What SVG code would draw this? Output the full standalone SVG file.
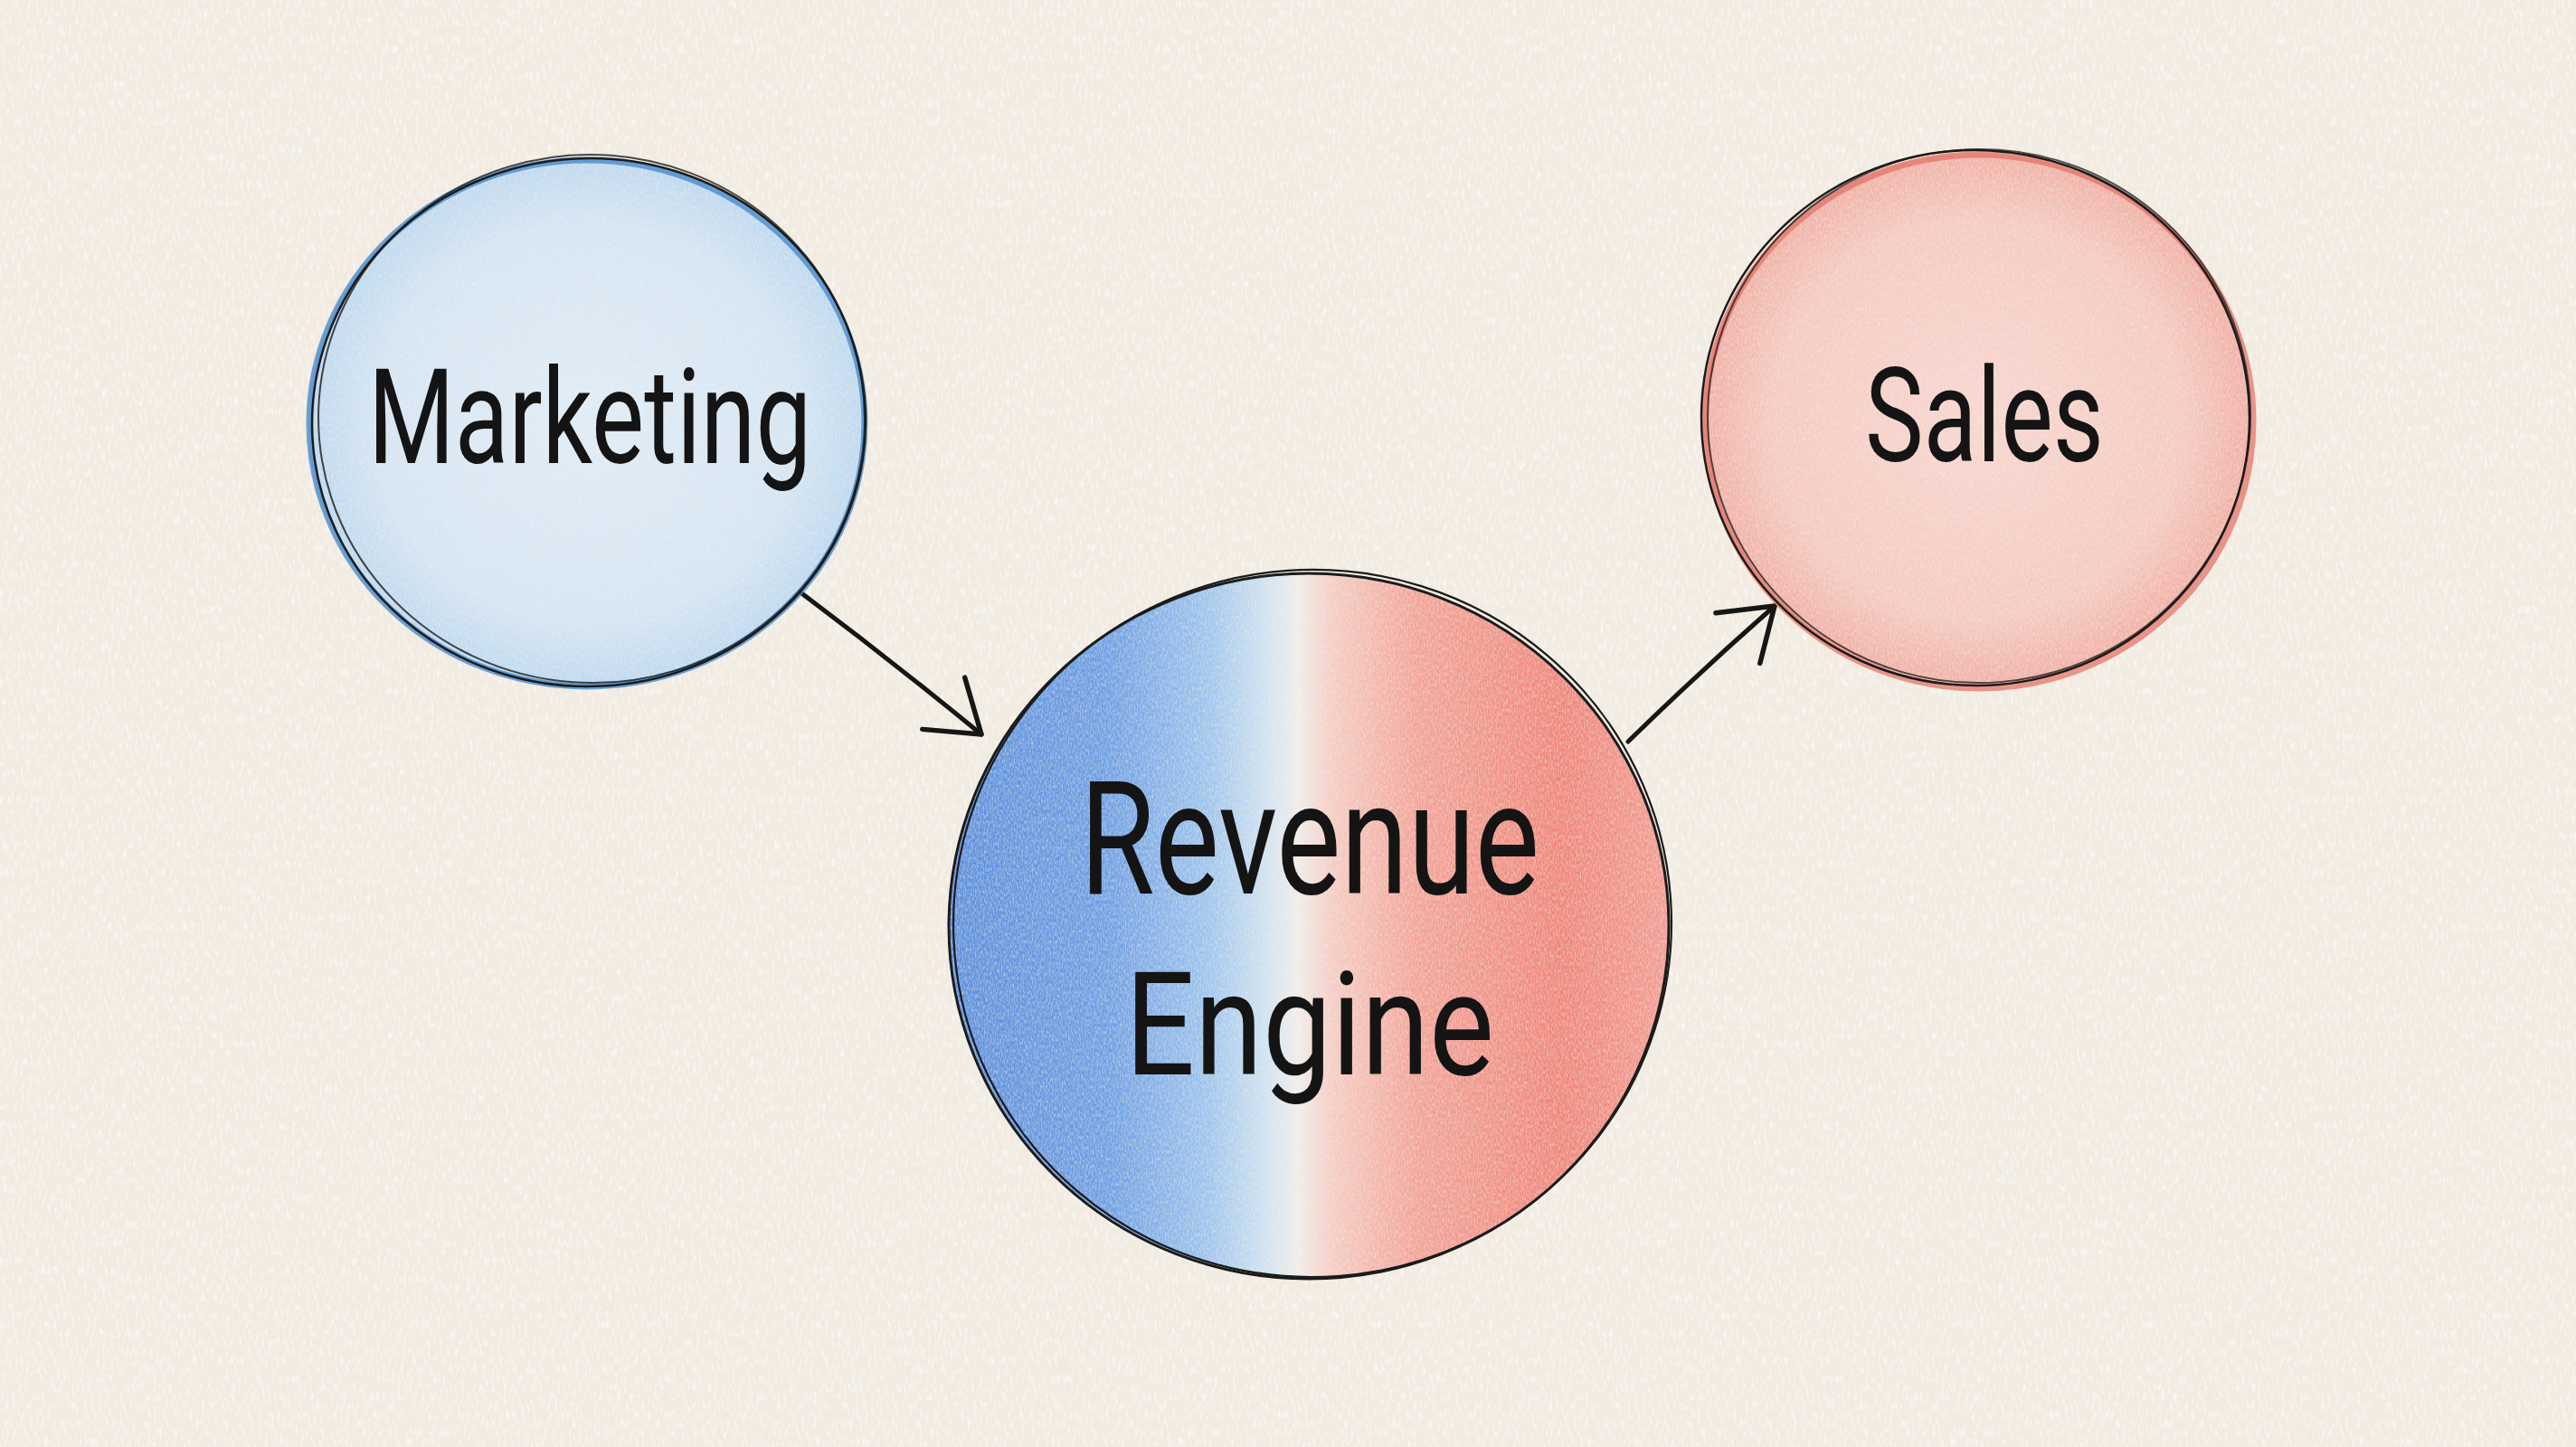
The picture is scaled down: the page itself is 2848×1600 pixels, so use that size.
<svg xmlns="http://www.w3.org/2000/svg" width="2848" height="1600" viewBox="0 0 2848 1600">
  <style>
    .label { font-family: Roboto, "Open Sans", "Liberation Sans", sans-serif; fill: #141414; text-anchor: middle; font-weight: 400; }
    .ink { fill: none; stroke: #1b1b1b; stroke-linecap: round; }
    .conn { fill: none; stroke: #161616; stroke-width: 5; stroke-linecap: round; }
  </style>
  <defs>
    <filter id="paper" x="0" y="0" width="100%" height="100%">
      <feTurbulence type="fractalNoise" baseFrequency="0.3 0.1" numOctaves="3" seed="7" result="n"/>
      <feColorMatrix in="n" type="matrix" values="0 0 0 0 1  0 0 0 0 1  0 0 0 0 1  -1.6 0 0 0 0.85"/>
    </filter>
    <filter id="pencil" x="-5%" y="-5%" width="110%" height="110%">
      <feTurbulence type="fractalNoise" baseFrequency="0.7 0.25" numOctaves="3" seed="3" result="n"/>
      <feColorMatrix in="n" type="matrix" values="0 0 0 0 0  0 0 0 0 0  0 0 0 0 0  1.1 0 0 0 0.3" result="na"/>
      <feComposite in="SourceGraphic" in2="na" operator="in"/>
    </filter>
    <radialGradient id="blueFill" cx="0.5" cy="0.5" r="0.5">
      <stop offset="0" stop-color="#dfedf8"/>
      <stop offset="0.75" stop-color="#d4e6f6"/>
      <stop offset="1" stop-color="#bcd8f1"/>
    </radialGradient>
    <radialGradient id="redFill" cx="0.5" cy="0.5" r="0.5">
      <stop offset="0" stop-color="#f8d6cf"/>
      <stop offset="0.75" stop-color="#f6c9c1"/>
      <stop offset="1" stop-color="#f1aea4"/>
    </radialGradient>
    <linearGradient id="engineFill" gradientUnits="userSpaceOnUse" x1="1049" y1="0" x2="1845" y2="0">
      <stop offset="0" stop-color="#5c8fdd"/>
      <stop offset="0.22" stop-color="#6d9fe5"/>
      <stop offset="0.36" stop-color="#9cc4ef"/>
      <stop offset="0.44" stop-color="#cfe3f4"/>
      <stop offset="0.485" stop-color="#f1eeec"/>
      <stop offset="0.53" stop-color="#f6cdc5"/>
      <stop offset="0.65" stop-color="#f3a297"/>
      <stop offset="0.85" stop-color="#ef857a"/>
      <stop offset="1" stop-color="#f39c92"/>
    </linearGradient>
    <marker id="head" markerUnits="userSpaceOnUse" viewBox="-80 -60 100 120" refX="0" refY="0" markerWidth="100" markerHeight="120" orient="auto">
      <path d="M -54 -37 L 0 0 L -54 37" fill="none" stroke="#161616" stroke-width="5.5" stroke-linecap="round" stroke-linejoin="round"/>
    </marker>
  </defs>

  <rect x="0" y="0" width="2848" height="1600" fill="#f1ebe1"/>
  <rect x="0" y="0" width="2848" height="1600" filter="url(#paper)"/>

  <g id="connectors">
    <path class="conn" d="M 885 655 Q 985 730 1085 812" marker-end="url(#head)"/>
    <path class="conn" d="M 1800 820 Q 1880 742 1962 670" marker-end="url(#head)"/>
  </g>

  <g id="marketing">
    <ellipse cx="649" cy="468" rx="308" ry="292" fill="url(#blueFill)" filter="url(#pencil)"/>
    <ellipse cx="649" cy="468" rx="307" ry="291" fill="none" stroke="#3f86c9" stroke-width="7" opacity="0.75"/>
    <ellipse class="ink" cx="651" cy="467" rx="306" ry="292" stroke-width="2.5" transform="rotate(-3 651 467)"/>
    <ellipse class="ink" cx="654" cy="463" rx="302" ry="292" stroke-width="2" opacity="0.8" transform="rotate(4 654 463)"/>
    <text class="label" x="652" y="512" font-size="146" textLength="490" lengthAdjust="spacingAndGlyphs">Marketing</text>
  </g>

  <g id="revenue-engine">
    <ellipse cx="1447" cy="1024" rx="397" ry="389" fill="url(#engineFill)" filter="url(#pencil)"/>
    <ellipse class="ink" cx="1447" cy="1024" rx="398" ry="390" stroke-width="3"/>
    <ellipse class="ink" cx="1451" cy="1021" rx="397" ry="391" stroke-width="2.2" transform="rotate(-4 1451 1021)"/>
    <text class="label" x="1448" y="988" font-size="174" textLength="508" lengthAdjust="spacingAndGlyphs">Revenue</text>
    <text class="label" x="1448" y="1188" font-size="160" textLength="408" lengthAdjust="spacingAndGlyphs">Engine</text>
  </g>

  <g id="sales">
    <ellipse cx="2186" cy="464" rx="303" ry="295" fill="url(#redFill)" filter="url(#pencil)"/>
    <ellipse cx="2188" cy="466" rx="303" ry="295" fill="none" stroke="#e36e62" stroke-width="7" opacity="0.7"/>
    <ellipse class="ink" cx="2184" cy="462" rx="303" ry="296" stroke-width="2.5" transform="rotate(3 2184 462)"/>
    <ellipse class="ink" cx="2188" cy="460" rx="300" ry="295" stroke-width="2" opacity="0.75" transform="rotate(-5 2188 460)"/>
    <text class="label" x="2194" y="510" font-size="144" textLength="264" lengthAdjust="spacingAndGlyphs">Sales</text>
  </g>
</svg>
